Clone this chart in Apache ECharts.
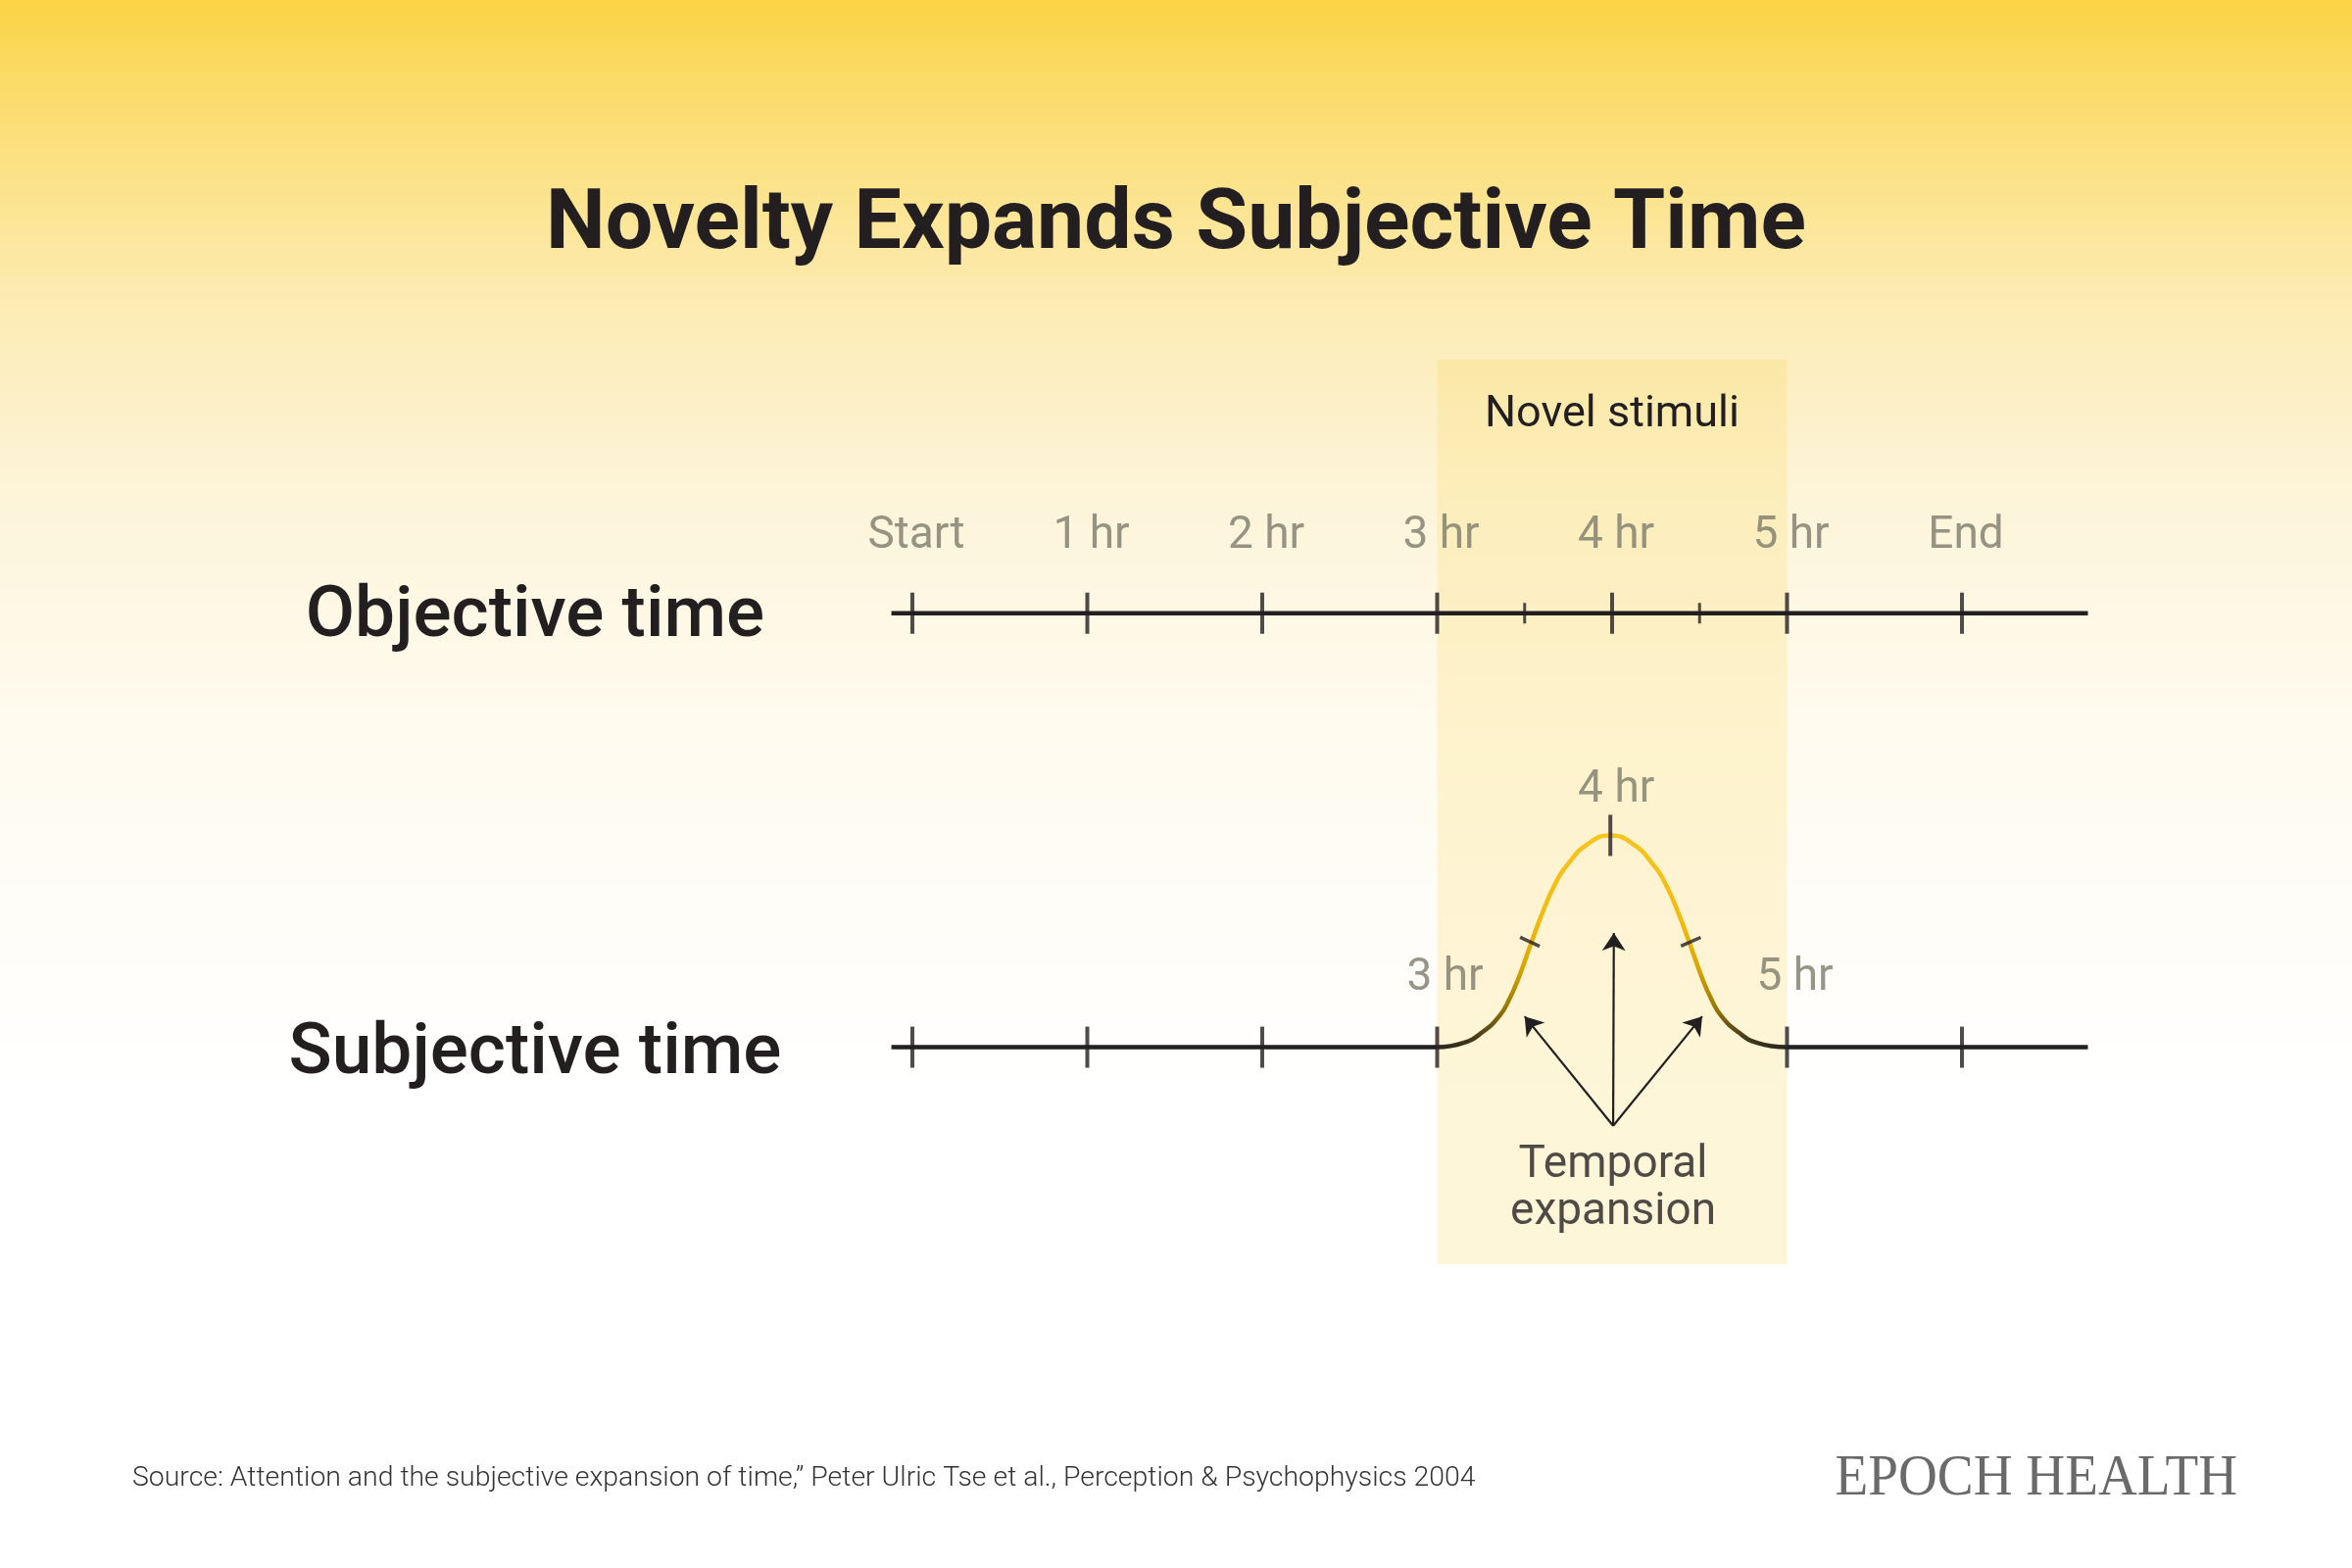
<!DOCTYPE html>
<html>
<head>
<meta charset="utf-8">
<script src="https://cdn.jsdelivr.net/npm/echarts@6/dist/echarts.min.js"></script>
<style>
html,body{margin:0;padding:0;width:2400px;height:1600px;overflow:hidden;background:#fff;}
#chart{width:2400px;height:1600px;}
</style>
</head>
<body>
<div id="chart"></div>
<script>
// ---------- data ----------
const titleText = 'Novelty Expands Subjective Time';
const rowLabels = ['Objective time', 'Subjective time'];
const tickLabels = ['Start', '1 hr', '2 hr', '3 hr', '4 hr', '5 hr', 'End'];
const tickHours = [0, 1, 2, 3, 4, 5, 6];
const halfHourTicks = [3.5, 4.5];
const lineExtent = [-0.12, 6.72];
const objectiveLevel = 1;
const subjectiveLevel = 0;
const novelWindow = [3, 5];
const novelLabel = 'Novel stimuli';
// subjective time curve (hours, height above subjective baseline)
const curveHours   = [3.000, 3.150, 3.260, 3.356, 3.412, 3.468, 3.533, 3.598, 3.673, 3.748, 3.860, 3.990, 4.120, 4.232, 4.307, 4.382, 4.447, 4.512, 4.568, 4.624, 4.720, 4.830, 5.000];
const curveHeights = [0.000, 0.010, 0.035, 0.072, 0.110, 0.162, 0.235, 0.306, 0.375, 0.422, 0.468, 0.488, 0.468, 0.422, 0.375, 0.306, 0.235, 0.162, 0.110, 0.072, 0.035, 0.010, 0.000];
const subjTickHours = [0, 1, 2, 3, 5, 6];
const subjTickLabels = ['', '', '', '3 hr', '5 hr', ''];
const peakTick = [3.99, 0.488];
const peakLabel = '4 hr';
const curveMarkHours = [3.53, 4.45];
const curveMarkHeights = [0.243, 0.243];
const arrowOrigin = [4.006, -0.181];
const arrowTipHours = [3.50, 4.01, 4.515];
const arrowTipHeights = [0.071, 0.263, 0.071];
const expansionLabel = 'Temporal\nexpansion';
const sourceText = 'Source: Attention and the subjective expansion of time,\u201d Peter Ulric Tse et al., Perception & Psychophysics 2004';
const brandText = 'EPOCH HEALTH';

// ---------- chart ----------
const INK = '#231f20';
const GREY = '#7c7a6c';
const chart = echarts.init(document.getElementById('chart'));

const option = {
  animation: false,
  backgroundColor: {
    type: 'linear', x: 0, y: 0, x2: 0, y2: 1,
    colorStops: [
      {offset: 0, color: '#fad443'},
      {offset: 0.05, color: '#fbdb66'},
      {offset: 0.19, color: '#fcebb2'},
      {offset: 0.31, color: '#fdf4d8'},
      {offset: 0.44, color: '#fefaec'},
      {offset: 0.58, color: '#fffdf8'},
      {offset: 0.70, color: '#ffffff'},
      {offset: 1, color: '#ffffff'}
    ]
  },
  title: {
    text: titleText,
    left: 'center',
    top: 176,
    textStyle: {fontFamily: 'Roboto', fontWeight: 'bold', fontSize: 86, color: INK, lineHeight: 100}
  },
  grid: {left: 841.75, width: 1338.75, top: 360, height: 930},
  xAxis: {type: 'value', min: -0.5, max: 7, show: false},
  yAxis: {type: 'value', min: -0.5, max: 1.6, show: false},
  graphic: [
    {type: 'text', x: 546, y: 631, style: {text: rowLabels[0], fill: INK, font: '500 73px Roboto', textAlign: 'center', textVerticalAlign: 'middle'}},
    {type: 'text', x: 546, y: 1077, style: {text: rowLabels[1], fill: INK, font: '500 73px Roboto', textAlign: 'center', textVerticalAlign: 'middle'}},
    {type: 'text', x: 135, y: 1509, style: {text: sourceText, fill: '#333333', font: '300 28.4px Roboto', textAlign: 'left', textVerticalAlign: 'middle'}},
    {type: 'text', x: 2283, y: 1509, scaleX: 0.92, originX: 0, originY: 0, style: {text: brandText, fill: '#6a6a6a', font: '60px "Liberation Serif"', textAlign: 'right', textVerticalAlign: 'middle'}}
  ],
  series: [
    // objective line + novel window
    {
      type: 'line', z: 1, symbol: 'none',
      data: lineExtent.map(h => [h, objectiveLevel]),
      lineStyle: {color: INK, width: 4.5},
      markArea: {
        silent: true,
        itemStyle: {color: 'rgba(250,215,80,0.22)'},
        label: {show: true, position: 'insideTop', distance: 34, fontFamily: 'Roboto', fontSize: 45, color: INK},
        data: [[{xAxis: novelWindow[0], yAxis: -0.5, name: novelLabel}, {xAxis: novelWindow[1], yAxis: 1.584}]]
      }
    },
    // objective ticks
    {
      type: 'scatter', z: 3, symbol: 'rect', symbolSize: [4, 42],
      itemStyle: {color: INK},
      data: tickHours.map((h, i) => ({value: [h, objectiveLevel], name: tickLabels[i]})),
      label: {show: true, position: 'inside', offset: [4, -78], formatter: p => p.name, fontFamily: 'Roboto', fontSize: 46, color: GREY}
    },
    {
      type: 'scatter', z: 3, symbol: 'rect', symbolSize: [3, 21],
      itemStyle: {color: INK},
      data: halfHourTicks.map(h => [h, objectiveLevel])
    },
    // subjective baseline segments
    {
      type: 'line', z: 2, symbol: 'none', lineStyle: {color: INK, width: 4.5},
      data: [[lineExtent[0], subjectiveLevel], [novelWindow[0], subjectiveLevel]]
    },
    {
      type: 'line', z: 2, symbol: 'none', lineStyle: {color: INK, width: 4.5},
      data: [[novelWindow[1], subjectiveLevel], [lineExtent[1], subjectiveLevel]]
    },
    // expansion curve
    {
      type: 'line', z: 2, symbol: 'none', smooth: 0.5,
      data: curveHours.map((h, i) => [h, curveHeights[i]]),
      lineStyle: {
        width: 4.5,
        color: new echarts.graphic.LinearGradient(0, 0, 0, 1, [
          {offset: 0, color: '#f7c41f'},
          {offset: 0.4, color: '#f2bb0e'},
          {offset: 0.62, color: '#dba600'},
          {offset: 0.8, color: '#9c7a06'},
          {offset: 0.92, color: '#584514'},
          {offset: 1, color: '#2a2520'}
        ])
      }
    },
    // subjective ticks
    {
      type: 'scatter', z: 3, symbol: 'rect', symbolSize: [4, 42],
      itemStyle: {color: INK},
      data: subjTickHours.map((h, i) => ({value: [h, subjectiveLevel], name: subjTickLabels[i]})),
      label: {show: true, position: 'inside', offset: [8, -70], formatter: p => p.name, fontFamily: 'Roboto', fontSize: 46, color: GREY}
    },
    {
      type: 'scatter', z: 3, symbol: 'rect', symbolSize: [4, 42],
      itemStyle: {color: INK},
      data: [{value: peakTick, name: peakLabel}],
      label: {show: true, position: 'inside', offset: [6, -46], formatter: p => p.name, fontFamily: 'Roboto', fontSize: 46, color: GREY}
    },
    {
      type: 'scatter', z: 3, symbol: 'rect', symbolSize: [22, 3.5],
      itemStyle: {color: INK},
      data: [
        {value: [curveMarkHours[0], curveMarkHeights[0]], symbolRotate: -25},
        {value: [curveMarkHours[1], curveMarkHeights[1]], symbolRotate: 24}
      ]
    },
    // arrows
    {
      type: 'lines', coordinateSystem: 'cartesian2d', z: 4,
      symbol: ['none', 'arrow'], symbolSize: 18,
      lineStyle: {color: INK, width: 2.2, opacity: 1},
      data: arrowTipHours.map((h, i) => ({coords: [arrowOrigin, [h, arrowTipHeights[i]]]}))
    },
    // temporal expansion label
    {
      type: 'scatter', z: 4, symbolSize: 0,
      data: [{value: arrowOrigin, name: expansionLabel}],
      label: {show: true, position: 'inside', offset: [0, 65], formatter: p => p.name, fontFamily: 'Roboto', fontSize: 46, lineHeight: 48, color: INK, align: 'center'}
    }
  ]
};
chart.setOption(option);
</script>
</body>
</html>
